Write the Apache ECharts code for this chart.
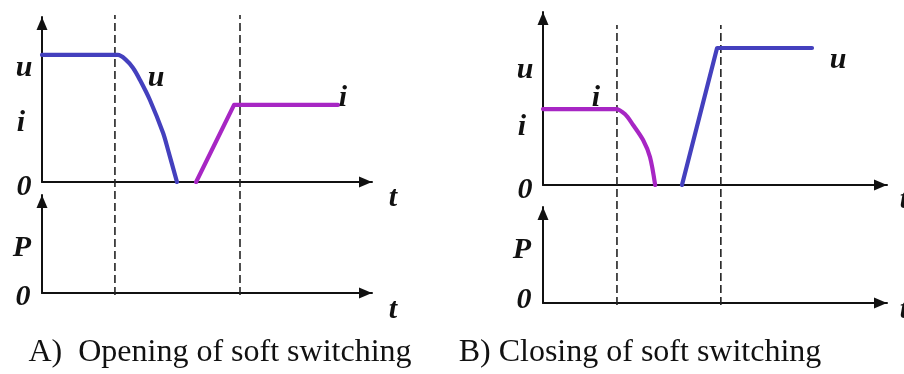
<!DOCTYPE html>
<html>
<head>
<meta charset="utf-8">
<script src="https://cdn.jsdelivr.net/npm/echarts@6/dist/echarts.min.js"></script>
<style>html,body{margin:0;padding:0;background:#fff;}#c{width:904px;height:374px;}</style>
</head>
<body>
<div id="c"></div>
<script>
// Panel A: opening of soft switching (time in arbitrary units 0..10, amplitude 0..10)
const aU_t = [0, 2.30, 2.52, 2.76, 2.97, 3.27, 3.67, 3.82, 4.09];
const aU_v = [7.7, 7.7, 7.45, 6.91, 6.18, 4.97, 2.97, 1.94, 0];
const aI_t = [4.67, 5.82, 8.97];
const aI_v = [0, 4.67, 4.67];
const aDash = [2.21, 6.0];
// Panel B: closing of soft switching
const bI_t = [0, 2.12, 2.38, 2.62, 2.91, 3.11, 3.26];
const bI_v = [4.39, 4.39, 4.10, 3.47, 2.60, 1.62, 0];
const bU_t = [4.04, 5.06, 7.82];
const bU_v = [0, 7.92, 7.92];
const bDash = [2.15, 5.17];
const captions = ['A)  Opening of soft switching', 'B) Closing of soft switching'];

const BLUE = '#4440be', MAG = '#a726c4', INK = '#111';
const zip = (t, v) => t.map((x, k) => [x, v[k]]);

const grids = [
  {left: 42, top: 17, width: 330, height: 165},   // 0 A upper
  {left: 42, top: 195, width: 330, height: 98},   // 1 A lower
  {left: 42, top: 15, width: 330, height: 280},   // 2 A dashes
  {left: 543, top: 12, width: 344, height: 173},  // 3 B upper
  {left: 543, top: 207, width: 344, height: 96},  // 4 B lower
  {left: 543, top: 25, width: 344, height: 280}   // 5 B dashes
].map(g => Object.assign({outerBoundsMode: 'none', containLabel: false}, g));

function axis(gi, show, max) {
  return {
    type: 'value', gridIndex: gi, min: 0, max: max,
    axisLine: {show: show, onZero: false, symbol: ['none', 'triangle'], symbolSize: [11, 13], symbolOffset: [0, -6.5],
      lineStyle: {color: INK, width: 2}},
    axisTick: {show: false}, axisLabel: {show: false}, splitLine: {show: false}
  };
}
const xAxes = [0,1,2,3,4,5].map(i => axis(i, i !== 2 && i !== 5, 10));
const yAxes = [0,1,2,3,4,5].map(i => axis(i, i !== 2 && i !== 5, (i === 0 || i === 3) ? 10 : 1));

const series = [];
function dash(t, gi) {
  series.push({type: 'line', xAxisIndex: gi, yAxisIndex: gi, data: [[t, 0], [t, 1]], symbol: 'none', silent: true, z: 1,
    lineStyle: {color: '#222', width: 1.6, type: [8, 4]}});
}
aDash.forEach(t => dash(t, 2));
bDash.forEach(t => dash(t, 5));
function curve(t, v, gi, col, sm) {
  series.push({type: 'line', xAxisIndex: gi, yAxisIndex: gi, data: zip(t, v), symbol: 'none', z: 3,
    smooth: sm || false,
    lineStyle: {color: col, width: 4.2, cap: 'round', join: 'round'}});
}
curve(aU_t, aU_v, 0, BLUE, 0.3);
curve(aI_t, aI_v, 0, MAG);
curve(bI_t, bI_v, 3, MAG, 0.3);
curve(bU_t, bU_v, 3, BLUE);

const LBL = 'italic bold 30px "Liberation Serif", "DejaVu Serif", serif';
function txt(s, x, y, font) {
  return {type: 'text', x: x, y: y, z: 10,
    style: {text: s, font: font || LBL, fill: INK, align: 'center', verticalAlign: 'middle', textAlign: 'center', textVerticalAlign: 'middle'}};
}
const CAP = 'normal 32px "Liberation Serif", "Times New Roman", serif';
const graphic = [
  txt('u', 24, 68), txt('i', 21, 123), txt('0', 24, 187), txt('u', 156, 78), txt('i', 343, 98), txt('t', 393, 198),
  txt('P', 22, 248), txt('0', 23, 297), txt('t', 393, 310),
  txt('u', 525, 70), txt('i', 522, 127), txt('0', 525, 190), txt('i', 596, 98), txt('u', 838, 60), txt('t', 904, 200),
  txt('P', 522, 250), txt('0', 524, 300), txt('t', 904, 310),
  txt(captions[0], 220, 353, CAP), txt(captions[1], 640, 353, CAP)
];

const chart = echarts.init(document.getElementById('c'), null, {renderer: 'canvas'});
chart.setOption({
  animation: false,
  backgroundColor: '#fff',
  grid: grids, xAxis: xAxes, yAxis: yAxes, series: series, graphic: graphic
});
</script>
</body>
</html>
